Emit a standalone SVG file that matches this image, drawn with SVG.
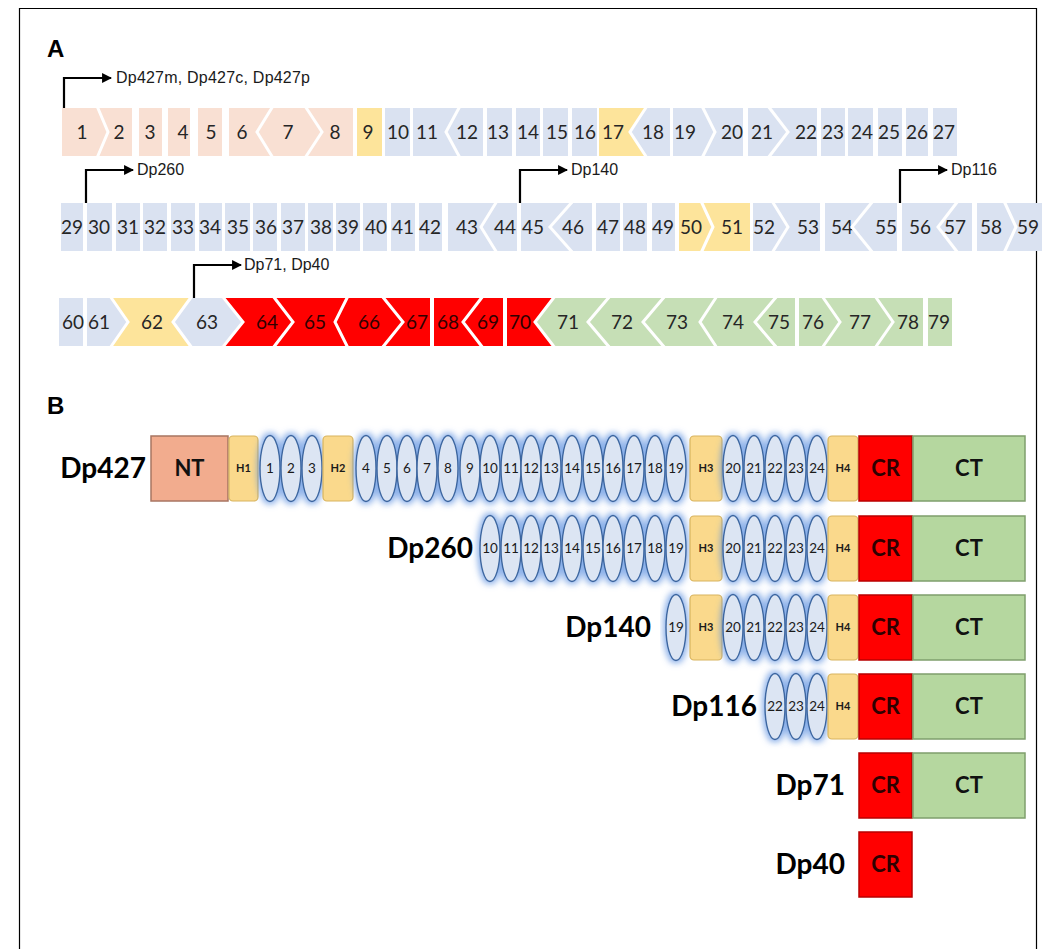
<svg xmlns="http://www.w3.org/2000/svg" width="1048" height="949" viewBox="0 0 1048 949">
  <defs>
    <style>
      .peach { fill: #f9e0d3; }
      .blue { fill: #dae2f1; }
      .yel { fill: #fde49b; }
      .red { fill: #ff0000; }
      .grn { fill: #c6dfb6; }
      .ex { font-family: Lato, "Liberation Sans", sans-serif; font-size: 19px; fill: #262626; text-anchor: middle; }
      .exr { font-family: Lato, "Liberation Sans", sans-serif; font-size: 19px; fill: #300000; text-anchor: middle; }
      .div { fill: none; stroke: #ffffff; stroke-width: 3; stroke-linejoin: miter; }
      .prom { fill: none; stroke: #000; stroke-width: 2.2; }
      .plab { font-family: "Liberation Sans", Arial, sans-serif; font-size: 16px; fill: #1a1a1a; }
      .panel { font-family: "Liberation Sans", Arial, sans-serif; font-size: 24px; font-weight: bold; fill: #000; }
      .iso { font-family: Lato, "Liberation Sans", sans-serif; font-size: 28px; font-weight: bold; fill: #000; text-anchor: end; }
      .rep { fill: #dce5f3; stroke: #3d669f; stroke-width: 1.4; }
      .rept { font-family: Lato, "Liberation Sans", sans-serif; font-size: 13.5px; fill: #1a1a1a; text-anchor: middle; }
      .hng { fill: #fad98c; stroke: #d8b45e; stroke-width: 1.2; }
      .hngt { font-family: Lato, "Liberation Sans", sans-serif; font-size: 11px; font-weight: bold; fill: #1a1a1a; text-anchor: middle; }
      .nt { fill: #f2ac8e; stroke: #a87562; stroke-width: 1.5; }
      .cr { fill: #ff0000; stroke: #b80000; stroke-width: 1.5; }
      .ct { fill: #b5d79f; stroke: #7f9f6c; stroke-width: 1.5; }
      .dom { font-family: Lato, "Liberation Sans", sans-serif; font-size: 22px; font-weight: bold; fill: #111; text-anchor: middle; }
      .domr { font-family: Lato, "Liberation Sans", sans-serif; font-size: 22px; font-weight: bold; fill: #2e0000; text-anchor: middle; }
    </style>
    <marker id="arr" viewBox="0 0 10 10" refX="9" refY="5" markerWidth="4.5" markerHeight="4.5" orient="auto">
      <path d="M0,0 L10,5 L0,10 z" fill="#000"/>
    </marker>
    <filter id="halo" x="-30%" y="-20%" width="160%" height="140%">
      <feMorphology in="SourceAlpha" operator="dilate" radius="1.5" result="d"/>
      <feGaussianBlur in="d" stdDeviation="3" result="b"/>
      <feFlood flood-color="#5a8fe0" flood-opacity="0.7"/>
      <feComposite in2="b" operator="in" result="g"/>
      <feMerge><feMergeNode in="g"/><feMergeNode in="SourceGraphic"/></feMerge>
    </filter>
  </defs>

  <!-- frame -->
  <path d="M19.5,949 V8.5 H1036.5 V949" fill="none" stroke="#000" stroke-width="1.2"/>

  <text class="panel" x="47" y="57">A</text>
  <text class="panel" x="47" y="414">B</text>

  <!-- ===== Panel A, row 1 (exons 1-27) ===== -->
  <g id="row1">
    <g id="ex1"><polygon class="peach" points="62,108 97,108 108,132 97,156 62,156"/><text class="ex" x="82" y="139">1</text></g>
    <g id="ex2"><polygon class="peach" points="97,108 132,108 132,156 97,156 108,132"/><text class="ex" x="119" y="139">2</text></g>
    <g id="ex3"><rect class="peach" x="139" y="108" width="23" height="48"/><text class="ex" x="150" y="139">3</text></g>
    <g id="ex4"><rect class="peach" x="168" y="108" width="22" height="48"/><text class="ex" x="183" y="139">4</text></g>
    <g id="ex5"><rect class="peach" x="198" y="108" width="24" height="48"/><text class="ex" x="211" y="139">5</text></g>
    <g id="ex6"><polygon class="peach" points="229,108 273,108 257,132 273,156 229,156"/><text class="ex" x="242" y="139">6</text></g>
    <g id="ex7"><polygon class="peach" points="273,108 305,108 322,132 305,156 273,156 257,132"/><text class="ex" x="288" y="139">7</text></g>
    <g id="ex8"><polygon class="peach" points="305,108 353,108 353,156 305,156 322,132"/><text class="ex" x="335" y="139">8</text></g>
    <g id="ex9"><rect class="yel" x="357" y="108" width="25" height="48"/><text class="ex" x="368" y="139">9</text></g>
    <g id="ex10"><rect class="blue" x="385" y="108" width="25" height="48"/><text class="ex" x="398" y="139">10</text></g>
    <g id="ex11"><polygon class="blue" points="413,108 460,108 446,132 460,156 413,156"/><text class="ex" x="427" y="139">11</text></g>
    <g id="ex12"><polygon class="blue" points="460,108 483,108 483,156 460,156 446,132"/><text class="ex" x="467" y="139">12</text></g>
    <g id="ex13"><rect class="blue" x="487" y="108" width="25" height="48"/><text class="ex" x="498" y="139">13</text></g>
    <g id="ex14"><rect class="blue" x="516" y="108" width="24" height="48"/><text class="ex" x="528" y="139">14</text></g>
    <g id="ex15"><rect class="blue" x="543" y="108" width="25" height="48"/><text class="ex" x="557" y="139">15</text></g>
    <g id="ex16"><rect class="blue" x="572" y="108" width="25" height="48"/><text class="ex" x="585" y="139">16</text></g>
    <g id="ex17"><polygon class="yel" points="599,108 647,108 630,132 647,156 599,156"/><text class="ex" x="613" y="139">17</text></g>
    <g id="ex18"><polygon class="blue" points="647,108 670,108 670,156 647,156 630,132"/><text class="ex" x="653" y="139">18</text></g>
    <g id="ex19"><polygon class="blue" points="673,108 702,108 715,132 702,156 673,156"/><text class="ex" x="685" y="139">19</text></g>
    <g id="ex20"><polygon class="blue" points="702,108 743,108 743,156 702,156 715,132"/><text class="ex" x="732" y="139">20</text></g>
    <g id="ex21"><polygon class="blue" points="748,108 768,108 788,132 768,156 748,156"/><text class="ex" x="762" y="139">21</text></g>
    <g id="ex22"><polygon class="blue" points="768,108 817,108 817,156 768,156 788,132"/><text class="ex" x="806" y="139">22</text></g>
    <g id="ex23"><rect class="blue" x="821" y="108" width="24" height="48"/><text class="ex" x="833" y="139">23</text></g>
    <g id="ex24"><rect class="blue" x="848" y="108" width="25" height="48"/><text class="ex" x="862" y="139">24</text></g>
    <g id="ex25"><rect class="blue" x="878" y="108" width="24" height="48"/><text class="ex" x="889" y="139">25</text></g>
    <g id="ex26"><rect class="blue" x="906" y="108" width="22" height="48"/><text class="ex" x="917" y="139">26</text></g>
    <g id="ex27"><rect class="blue" x="933" y="108" width="24" height="48"/><text class="ex" x="944" y="139">27</text></g>
  </g>

  <!-- ===== Panel A, row 2 (exons 29-59) ===== -->
  <g id="row2">
    <g id="ex29"><rect class="blue" x="61" y="203" width="22" height="48"/><text class="ex" x="72" y="234">29</text></g>
    <g id="ex30"><rect class="blue" x="87" y="203" width="25" height="48"/><text class="ex" x="99" y="234">30</text></g>
    <g id="ex31"><rect class="blue" x="116" y="203" width="24" height="48"/><text class="ex" x="128" y="234">31</text></g>
    <g id="ex32"><rect class="blue" x="143" y="203" width="24" height="48"/><text class="ex" x="155" y="234">32</text></g>
    <g id="ex33"><rect class="blue" x="171" y="203" width="24" height="48"/><text class="ex" x="183" y="234">33</text></g>
    <g id="ex34"><rect class="blue" x="199" y="203" width="23" height="48"/><text class="ex" x="210" y="234">34</text></g>
    <g id="ex35"><rect class="blue" x="225" y="203" width="25" height="48"/><text class="ex" x="238" y="234">35</text></g>
    <g id="ex36"><rect class="blue" x="253" y="203" width="24" height="48"/><text class="ex" x="266" y="234">36</text></g>
    <g id="ex37"><rect class="blue" x="281" y="203" width="24" height="48"/><text class="ex" x="293" y="234">37</text></g>
    <g id="ex38"><rect class="blue" x="308" y="203" width="25" height="48"/><text class="ex" x="321" y="234">38</text></g>
    <g id="ex39"><rect class="blue" x="336" y="203" width="24" height="48"/><text class="ex" x="348" y="234">39</text></g>
    <g id="ex40"><rect class="blue" x="363" y="203" width="24" height="48"/><text class="ex" x="376" y="234">40</text></g>
    <g id="ex41"><rect class="blue" x="391" y="203" width="24" height="48"/><text class="ex" x="403" y="234">41</text></g>
    <g id="ex42"><rect class="blue" x="419" y="203" width="23" height="48"/><text class="ex" x="430" y="234">42</text></g>
    <g id="ex43"><polygon class="blue" points="448,203 497,203 481,227 497,251 448,251"/><text class="ex" x="467" y="234">43</text></g>
    <g id="ex44"><polygon class="blue" points="497,203 517,203 517,251 497,251 481,227"/><text class="ex" x="505" y="234">44</text></g>
    <g id="ex45"><polygon class="blue" points="521,203 573,203 550,227 573,251 521,251"/><text class="ex" x="533" y="234">45</text></g>
    <g id="ex46"><polygon class="blue" points="573,203 592,203 592,251 573,251 550,227"/><text class="ex" x="573" y="234">46</text></g>
    <g id="ex47"><rect class="blue" x="596" y="203" width="24" height="48"/><text class="ex" x="608" y="234">47</text></g>
    <g id="ex48"><rect class="blue" x="623" y="203" width="24" height="48"/><text class="ex" x="635" y="234">48</text></g>
    <g id="ex49"><rect class="blue" x="652" y="203" width="23" height="48"/><text class="ex" x="663" y="234">49</text></g>
    <g id="ex50"><polygon class="yel" points="679,203 701,203 713,227 701,251 679,251"/><text class="ex" x="691" y="234">50</text></g>
    <g id="ex51"><polygon class="yel" points="701,203 750,203 750,251 701,251 713,227"/><text class="ex" x="732" y="234">51</text></g>
    <g id="ex52"><polygon class="blue" points="753,203 772,203 788,227 772,251 753,251"/><text class="ex" x="764" y="234">52</text></g>
    <g id="ex53"><polygon class="blue" points="772,203 820,203 820,251 772,251 788,227"/><text class="ex" x="808" y="234">53</text></g>
    <g id="ex54"><polygon class="blue" points="825,203 873,203 852,227 873,251 825,251"/><text class="ex" x="842" y="234">54</text></g>
    <g id="ex55"><polygon class="blue" points="873,203 897,203 897,251 873,251 852,227"/><text class="ex" x="886" y="234">55</text></g>
    <g id="ex56"><polygon class="blue" points="902,203 958,203 938,227 958,251 902,251"/><text class="ex" x="920" y="234">56</text></g>
    <g id="ex57"><polygon class="blue" points="958,203 972,203 972,251 958,251 938,227"/><text class="ex" x="955" y="234">57</text></g>
    <g id="ex58"><polygon class="blue" points="977,203 1004,203 1016,227 1004,251 977,251"/><text class="ex" x="991" y="234">58</text></g>
    <g id="ex59"><polygon class="blue" points="1004,203 1042,203 1042,251 1004,251 1016,227"/><text class="ex" x="1028" y="234">59</text></g>
  </g>

  <!-- ===== Panel A, row 3 (exons 60-79) ===== -->
  <g id="row3">
    <g id="ex60"><rect class="blue" x="59" y="298" width="24" height="48"/><text class="ex" x="73" y="329">60</text></g>
    <g id="ex61"><polygon class="blue" points="87,298 110,298 128,322 110,346 87,346"/><text class="ex" x="99" y="329">61</text></g>
    <g id="ex62"><polygon class="yel" points="110,298 192,298 173,322 192,346 110,346 128,322"/><text class="ex" x="152" y="329">62</text></g>
    <g id="ex63"><polygon class="blue" points="192,298 222,298 243,322 222,346 192,346 173,322"/><text class="ex" x="207" y="329">63</text></g>
    <g id="ex64"><polygon class="red" points="222,298 273,298 293,322 273,346 222,346 243,322"/><text class="exr" x="267" y="329">64</text></g>
    <g id="ex65"><polygon class="red" points="273,298 348,298 335,322 348,346 273,346 293,322"/><text class="exr" x="315" y="329">65</text></g>
    <g id="ex66"><polygon class="red" points="348,298 382,298 403,322 382,346 348,346 335,322"/><text class="exr" x="369" y="329">66</text></g>
    <g id="ex67"><polygon class="red" points="382,298 430,298 430,346 382,346 403,322"/><text class="exr" x="417" y="329">67</text></g>
    <g id="ex68"><polygon class="red" points="434,298 483,298 463,322 483,346 434,346"/><text class="exr" x="448" y="329">68</text></g>
    <g id="ex69"><polygon class="red" points="483,298 503,298 503,346 483,346 463,322"/><text class="exr" x="488" y="329">69</text></g>
    <g id="ex70"><polygon class="red" points="507,298 555,298 535,322 555,346 507,346"/><text class="exr" x="520" y="329">70</text></g>
    <g id="ex71"><polygon class="grn" points="555,298 610,298 588,322 610,346 555,346 535,322"/><text class="ex" x="568" y="329">71</text></g>
    <g id="ex72"><polygon class="grn" points="610,298 665,298 643,322 665,346 610,346 588,322"/><text class="ex" x="622" y="329">72</text></g>
    <g id="ex73"><polygon class="grn" points="665,298 717,298 700,322 717,346 665,346 643,322"/><text class="ex" x="677" y="329">73</text></g>
    <g id="ex74"><polygon class="grn" points="717,298 777,298 755,322 777,346 717,346 700,322"/><text class="ex" x="733" y="329">74</text></g>
    <g id="ex75"><polygon class="grn" points="777,298 795,298 795,346 777,346 755,322"/><text class="ex" x="779" y="329">75</text></g>
    <g id="ex76"><polygon class="grn" points="799,298 822,298 840,322 822,346 799,346"/><text class="ex" x="813" y="329">76</text></g>
    <g id="ex77"><polygon class="grn" points="822,298 875,298 893,322 875,346 822,346 840,322"/><text class="ex" x="860" y="329">77</text></g>
    <g id="ex78"><polygon class="grn" points="875,298 923,298 923,346 875,346 893,322"/><text class="ex" x="908" y="329">78</text></g>
    <g id="ex79"><rect class="grn" x="928" y="298" width="24" height="48"/><text class="ex" x="939" y="329">79</text></g>
  </g>

  <!-- white splice-phase joins between neighbouring exons -->
  <g id="joins">
    <polyline class="div" points="97,106 108,132 97,158"/>
    <polyline class="div" points="273,106 257,132 273,158"/>
    <polyline class="div" points="305,106 322,132 305,158"/>
    <polyline class="div" points="460,106 446,132 460,158"/>
    <polyline class="div" points="647,106 630,132 647,158"/>
    <polyline class="div" points="702,106 715,132 702,158"/>
    <polyline class="div" points="768,106 788,132 768,158"/>

    <polyline class="div" points="497,201 481,227 497,253"/>
    <polyline class="div" points="573,201 550,227 573,253"/>
    <polyline class="div" points="701,201 713,227 701,253"/>
    <polyline class="div" points="772,201 788,227 772,253"/>
    <polyline class="div" points="873,201 852,227 873,253"/>
    <polyline class="div" points="958,201 938,227 958,253"/>
    <polyline class="div" points="1004,201 1016,227 1004,253"/>

    <polyline class="div" points="110,296 128,322 110,348"/>
    <polyline class="div" points="192,296 173,322 192,348"/>
    <polyline class="div" points="222,296 243,322 222,348"/>
    <polyline class="div" points="273,296 293,322 273,348"/>
    <polyline class="div" points="348,296 335,322 348,348"/>
    <polyline class="div" points="382,296 403,322 382,348"/>
    <polyline class="div" points="483,296 463,322 483,348"/>
    <polyline class="div" points="555,296 535,322 555,348"/>
    <polyline class="div" points="610,296 588,322 610,348"/>
    <polyline class="div" points="665,296 643,322 665,348"/>
    <polyline class="div" points="717,296 700,322 717,348"/>
    <polyline class="div" points="777,296 755,322 777,348"/>
    <polyline class="div" points="822,296 840,322 822,348"/>
    <polyline class="div" points="875,296 893,322 875,348"/>
  </g>

  <!-- promoter arrows -->
  <g id="promoters">
    <path class="prom" d="M64,108 V78 H111" marker-end="url(#arr)"/>
    <path class="prom" d="M86,203 V170 H133" marker-end="url(#arr)"/>
    <path class="prom" d="M520,203 V170 H567" marker-end="url(#arr)"/>
    <path class="prom" d="M900,203 V170 H947" marker-end="url(#arr)"/>
    <path class="prom" d="M194,298 V265 H241" marker-end="url(#arr)"/>
  </g>
  <g id="promoter-labels">
    <text class="plab" x="116" y="83" textLength="194">Dp427m, Dp427c, Dp427p</text>
    <text class="plab" x="137" y="175">Dp260</text>
    <text class="plab" x="571" y="175">Dp140</text>
    <text class="plab" x="951" y="175">Dp116</text>
    <text class="plab" x="244" y="270">Dp71, Dp40</text>
  </g>

  <!-- ===== Panel B: isoforms ===== -->
  <g id="Dp427">
    <text class="iso" x="146" y="478">Dp427</text>
    <rect class="nt" x="151" y="436" width="77" height="65"/>
    <text class="dom" x="189.5" y="476">NT</text>
    <rect class="hng" x="229" y="436" width="29" height="65" rx="4"/>
    <text class="hngt" x="243.5" y="472">H1</text>
    <g filter="url(#halo)">
      <ellipse class="rep" cx="270" cy="468.5" rx="10" ry="33"/>
      <ellipse class="rep" cx="291" cy="468.5" rx="10" ry="33"/>
      <ellipse class="rep" cx="312" cy="468.5" rx="10" ry="33"/>
    </g>
    <text class="rept" x="270" y="473">1</text><text class="rept" x="291" y="473">2</text><text class="rept" x="312" y="473">3</text>
    <rect class="hng" x="323" y="436" width="30" height="65" rx="4"/>
    <text class="hngt" x="338" y="472">H2</text>
    <g filter="url(#halo)">
      <ellipse class="rep" cx="366" cy="468.5" rx="10" ry="33"/>
      <ellipse class="rep" cx="387" cy="468.5" rx="10" ry="33"/>
      <ellipse class="rep" cx="407" cy="468.5" rx="10" ry="33"/>
      <ellipse class="rep" cx="427" cy="468.5" rx="10" ry="33"/>
      <ellipse class="rep" cx="448" cy="468.5" rx="10" ry="33"/>
      <ellipse class="rep" cx="470" cy="468.5" rx="10" ry="33"/>
      <ellipse class="rep" cx="490" cy="468.5" rx="10" ry="33"/>
      <ellipse class="rep" cx="511" cy="468.5" rx="10" ry="33"/>
      <ellipse class="rep" cx="531" cy="468.5" rx="10" ry="33"/>
      <ellipse class="rep" cx="551" cy="468.5" rx="10" ry="33"/>
      <ellipse class="rep" cx="572" cy="468.5" rx="10" ry="33"/>
      <ellipse class="rep" cx="593" cy="468.5" rx="10" ry="33"/>
      <ellipse class="rep" cx="613" cy="468.5" rx="10" ry="33"/>
      <ellipse class="rep" cx="634" cy="468.5" rx="10" ry="33"/>
      <ellipse class="rep" cx="655" cy="468.5" rx="10" ry="33"/>
      <ellipse class="rep" cx="676" cy="468.5" rx="10" ry="33"/>
    </g>
    <text class="rept" x="366" y="473">4</text><text class="rept" x="387" y="473">5</text><text class="rept" x="407" y="473">6</text><text class="rept" x="427" y="473">7</text><text class="rept" x="448" y="473">8</text><text class="rept" x="470" y="473">9</text><text class="rept" x="490" y="473">10</text><text class="rept" x="511" y="473">11</text><text class="rept" x="531" y="473">12</text><text class="rept" x="551" y="473">13</text><text class="rept" x="572" y="473">14</text><text class="rept" x="593" y="473">15</text><text class="rept" x="613" y="473">16</text><text class="rept" x="634" y="473">17</text><text class="rept" x="655" y="473">18</text><text class="rept" x="676" y="473">19</text>
    <rect class="hng" x="690" y="436" width="32" height="65" rx="4"/>
    <text class="hngt" x="706" y="472">H3</text>
    <g filter="url(#halo)">
      <ellipse class="rep" cx="733" cy="468.5" rx="10" ry="33"/>
      <ellipse class="rep" cx="754" cy="468.5" rx="10" ry="33"/>
      <ellipse class="rep" cx="775" cy="468.5" rx="10" ry="33"/>
      <ellipse class="rep" cx="796" cy="468.5" rx="10" ry="33"/>
      <ellipse class="rep" cx="817" cy="468.5" rx="10" ry="33"/>
    </g>
    <text class="rept" x="733" y="473">20</text><text class="rept" x="754" y="473">21</text><text class="rept" x="775" y="473">22</text><text class="rept" x="796" y="473">23</text><text class="rept" x="817" y="473">24</text>
    <rect class="hng" x="828" y="436" width="30" height="65" rx="4"/>
    <text class="hngt" x="843" y="472">H4</text>
    <rect class="cr" x="859" y="436" width="53" height="65"/>
    <text class="domr" x="885.5" y="476">CR</text>
    <rect class="ct" x="913" y="436" width="112" height="65"/>
    <text class="dom" x="969" y="476">CT</text>
  </g>

  <g id="Dp260">
    <text class="iso" x="473" y="558">Dp260</text>
    <g filter="url(#halo)">
      <ellipse class="rep" cx="490" cy="548.5" rx="10" ry="33"/>
      <ellipse class="rep" cx="511" cy="548.5" rx="10" ry="33"/>
      <ellipse class="rep" cx="531" cy="548.5" rx="10" ry="33"/>
      <ellipse class="rep" cx="551" cy="548.5" rx="10" ry="33"/>
      <ellipse class="rep" cx="572" cy="548.5" rx="10" ry="33"/>
      <ellipse class="rep" cx="593" cy="548.5" rx="10" ry="33"/>
      <ellipse class="rep" cx="613" cy="548.5" rx="10" ry="33"/>
      <ellipse class="rep" cx="634" cy="548.5" rx="10" ry="33"/>
      <ellipse class="rep" cx="655" cy="548.5" rx="10" ry="33"/>
      <ellipse class="rep" cx="676" cy="548.5" rx="10" ry="33"/>
    </g>
    <text class="rept" x="490" y="553">10</text><text class="rept" x="511" y="553">11</text><text class="rept" x="531" y="553">12</text><text class="rept" x="551" y="553">13</text><text class="rept" x="572" y="553">14</text><text class="rept" x="593" y="553">15</text><text class="rept" x="613" y="553">16</text><text class="rept" x="634" y="553">17</text><text class="rept" x="655" y="553">18</text><text class="rept" x="676" y="553">19</text>
    <rect class="hng" x="690" y="516" width="32" height="65" rx="4"/>
    <text class="hngt" x="706" y="552">H3</text>
    <g filter="url(#halo)">
      <ellipse class="rep" cx="733" cy="548.5" rx="10" ry="33"/>
      <ellipse class="rep" cx="754" cy="548.5" rx="10" ry="33"/>
      <ellipse class="rep" cx="775" cy="548.5" rx="10" ry="33"/>
      <ellipse class="rep" cx="796" cy="548.5" rx="10" ry="33"/>
      <ellipse class="rep" cx="817" cy="548.5" rx="10" ry="33"/>
    </g>
    <text class="rept" x="733" y="553">20</text><text class="rept" x="754" y="553">21</text><text class="rept" x="775" y="553">22</text><text class="rept" x="796" y="553">23</text><text class="rept" x="817" y="553">24</text>
    <rect class="hng" x="828" y="516" width="30" height="65" rx="4"/>
    <text class="hngt" x="843" y="552">H4</text>
    <rect class="cr" x="859" y="516" width="53" height="65"/>
    <text class="domr" x="885.5" y="556">CR</text>
    <rect class="ct" x="913" y="516" width="112" height="65"/>
    <text class="dom" x="969" y="556">CT</text>
  </g>

  <g id="Dp140">
    <text class="iso" x="651" y="637">Dp140</text>
    <g filter="url(#halo)">
      <ellipse class="rep" cx="676" cy="627.5" rx="10" ry="33"/>
    </g>
    <text class="rept" x="676" y="632">19</text>
    <rect class="hng" x="690" y="595" width="32" height="65" rx="4"/>
    <text class="hngt" x="706" y="631">H3</text>
    <g filter="url(#halo)">
      <ellipse class="rep" cx="733" cy="627.5" rx="10" ry="33"/>
      <ellipse class="rep" cx="754" cy="627.5" rx="10" ry="33"/>
      <ellipse class="rep" cx="775" cy="627.5" rx="10" ry="33"/>
      <ellipse class="rep" cx="796" cy="627.5" rx="10" ry="33"/>
      <ellipse class="rep" cx="817" cy="627.5" rx="10" ry="33"/>
    </g>
    <text class="rept" x="733" y="632">20</text><text class="rept" x="754" y="632">21</text><text class="rept" x="775" y="632">22</text><text class="rept" x="796" y="632">23</text><text class="rept" x="817" y="632">24</text>
    <rect class="hng" x="828" y="595" width="30" height="65" rx="4"/>
    <text class="hngt" x="843" y="631">H4</text>
    <rect class="cr" x="859" y="595" width="53" height="65"/>
    <text class="domr" x="885.5" y="635">CR</text>
    <rect class="ct" x="913" y="595" width="112" height="65"/>
    <text class="dom" x="969" y="635">CT</text>
  </g>

  <g id="Dp116">
    <text class="iso" x="757" y="716">Dp116</text>
    <g filter="url(#halo)">
      <ellipse class="rep" cx="775" cy="706.5" rx="10" ry="33"/>
      <ellipse class="rep" cx="796" cy="706.5" rx="10" ry="33"/>
      <ellipse class="rep" cx="817" cy="706.5" rx="10" ry="33"/>
    </g>
    <text class="rept" x="775" y="711">22</text><text class="rept" x="796" y="711">23</text><text class="rept" x="817" y="711">24</text>
    <rect class="hng" x="828" y="674" width="30" height="65" rx="4"/>
    <text class="hngt" x="843" y="710">H4</text>
    <rect class="cr" x="859" y="674" width="53" height="65"/>
    <text class="domr" x="885.5" y="714">CR</text>
    <rect class="ct" x="913" y="674" width="112" height="65"/>
    <text class="dom" x="969" y="714">CT</text>
  </g>

  <g id="Dp71">
    <text class="iso" x="845" y="795">Dp71</text>
    <rect class="cr" x="859" y="753" width="53" height="65"/>
    <text class="domr" x="885.5" y="793">CR</text>
    <rect class="ct" x="913" y="753" width="112" height="65"/>
    <text class="dom" x="969" y="793">CT</text>
  </g>

  <g id="Dp40">
    <text class="iso" x="845" y="874">Dp40</text>
    <rect class="cr" x="859" y="832" width="53" height="65"/>
    <text class="domr" x="885.5" y="872">CR</text>
  </g>
</svg>
